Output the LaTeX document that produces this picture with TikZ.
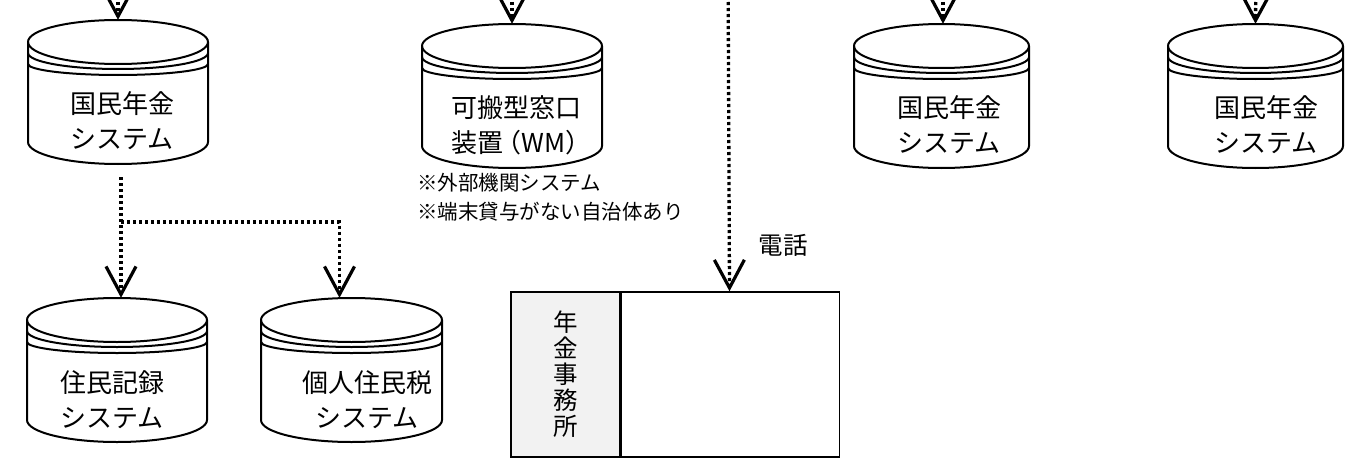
\documentclass[tikz,border=0pt]{standalone}
\usepackage{fontspec}
\setmainfont{Noto Sans CJK JP}
\usetikzlibrary{arrows.meta,calc}
\tikzset{
  cylline/.style={line width=2pt},
  cylbox/.style={inner sep=0pt, minimum height=144pt},
  cyltext/.style={font=\fontsize{26}{35}\selectfont, align=center, inner sep=0pt},
  notetext/.style={font=\fontsize{20.5}{29}\selectfont, align=left, inner sep=0pt, anchor=west},
  labeltext/.style={font=\fontsize{24.5}{28}\selectfont, inner sep=0pt},
  cell/.style={draw, line width=1.5pt, inner sep=0pt, minimum height=165pt},
  celltext/.style={font=\fontsize{24.5}{26}\selectfont, align=center},
  flow/.style={line width=3.3pt, dash pattern=on 3.2pt off 2.8pt,
    -{Straight Barb[length=28pt,width=30pt,line width=3.2pt]}}
}
\newcommand\dbcyl[4]{%
  \begin{scope}[shift={(#2,#3)}]
    \draw[cylline,fill=white] (-#4,22) -- (-#4,122)
      arc[start angle=180,end angle=360,x radius=#4pt,y radius=22pt]
      -- (#4,22)
      arc[start angle=0,end angle=180,x radius=#4pt,y radius=22pt] -- cycle;
    \draw[cylline] (-#4,22) arc[start angle=180,end angle=360,x radius=#4pt,y radius=22pt];
    \draw[cylline] (-#4,33) arc[start angle=180,end angle=360,x radius=#4pt,y radius=16pt];
    \draw[cylline] (-#4,44) arc[start angle=180,end angle=360,x radius=#4pt,y radius=11pt];
    \node[cylbox,minimum width={2*#4pt}] (#1) at (0,72) {};
  \end{scope}}
\begin{document}
\begin{tikzpicture}[x=1pt,y=-1pt]
  \useasboundingbox (0,0) rectangle (1370,460);
  \fill[white] (0,0) rectangle (1370,460);
  \clip (0,0) rectangle (1370,460);

  % cylinders
  \dbcyl{c1}{118}{20}{90}
  \dbcyl{c2}{117}{298}{90}
  \dbcyl{c3}{351.5}{298}{90.5}
  \dbcyl{wm}{512}{24}{90}
  \dbcyl{c5}{941.5}{24}{87.5}
  \dbcyl{c6}{1255.5}{24}{87.5}

  \node[cyltext] (t1) at (122,120.5) {国民年金\\システム};
  \node[cyltext] (t2) at (112,399.5) {住民記録\\システム};
  \node[cyltext] (t3) at (367,399.5) {個人住民税\\システム};
  \node[cyltext, align=left, anchor=west] (twm) at (451,125) {可搬型窓口\\装置\kern-0.3em（WM）};
  \node[cyltext] (t5) at (949,124.5) {国民年金\\システム};
  \node[cyltext] (t6) at (1266,124.5) {国民年金\\システム};

  \node[notetext] (note) at (417,197.5) {※外部機関システム\\※端末貸与がない自治体あり};

  % office
  \node[cell, fill=gray!10, minimum width=109pt] (offl) at (565.5,374.5) {};
  \node[celltext] (offt) at (offl.center) {年\\金\\事\\務\\所};
  \node[cell, minimum width=218pt, anchor=west] (offr) at (offl.east) {};

  \node[labeltext] (tel) at (783,245) {電話};

  % incoming from above
  \coordinate (in1) at (118,-40);
  \coordinate (inwm) at (512,-40);
  \coordinate (intel) at (728,-40);
  \coordinate (in5) at (943,-40);
  \coordinate (in6) at (1256,-40);
  \draw[flow] (in1) -- (c1.north);
  \draw[flow] (inwm) -- (wm.north);
  \draw[flow] (intel) -- ([xshift=-1pt]offr.north);
  \draw[flow] (in5) -- ([xshift=1.5pt]c5.north);
  \draw[flow] (in6) -- (c6.north);

  % branch from c1
  \coordinate (c1out) at ($(c1.south)+(3pt,-13pt)$);
  \coordinate (br) at (121,222);
  \draw[flow] (c1out) -- ([xshift=4pt]c2.north);
  \draw[flow] (br) -| ([xshift=-12pt]c3.north);
\end{tikzpicture}
\end{document}
